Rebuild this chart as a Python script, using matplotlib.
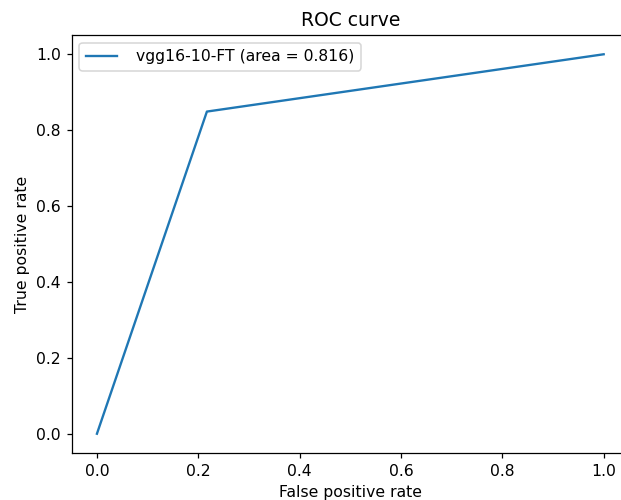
import matplotlib
matplotlib.use("Agg")
import matplotlib.pyplot as plt

# ROC points
fpr = [0.0, 0.217, 1.0]
tpr = [0.0, 0.849, 1.0]
label = "vgg16-10-FT (area = 0.816)"

DPI = 112.5
fig = plt.figure(figsize=(621 / DPI, 500 / DPI), dpi=DPI)
# axes right edge runs past the image edge, as in the (cropped) reference
ax = fig.add_axes([71.6 / 621, 47.3 / 500, 557.4 / 621, 417.4 / 500])

ax.plot(fpr, tpr, color="#1f77b4", linewidth=1.5, label=label)
ax.set_xlabel("False positive rate")
ax.set_ylabel("True positive rate")
ax.set_title("ROC curve")
ax.legend(loc="best", handletextpad=1.25)

fig.savefig("out.png", dpi=DPI)
